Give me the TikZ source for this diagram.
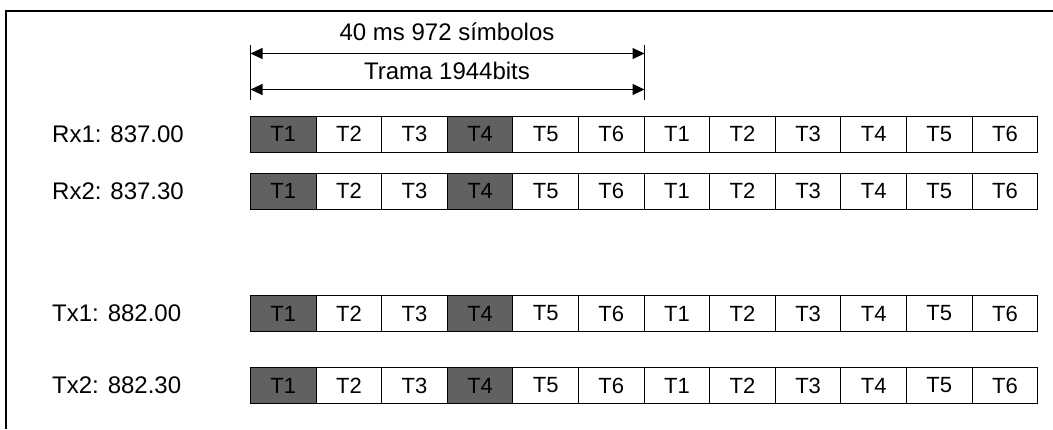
\documentclass[tikz,border=0pt]{standalone}
\usepackage{fontspec}
\setmainfont{Liberation Sans}
\usetikzlibrary{arrows.meta, positioning}
\tikzset{
  slotbox/.style={draw=black, line width=0.9pt, minimum width=65.6pt,
                  minimum height=36pt, inner sep=0pt, font=\fontsize{22}{24}\selectfont},
  hslotbox/.style={slotbox, fill=black!62},
  freqlabel/.style={anchor=west, inner sep=0pt, font=\fontsize{24}{28}\selectfont},
  toplabel/.style={inner sep=0pt, font=\fontsize{24}{28}\selectfont},
  dimarr/.style={{Triangle[length=12pt,width=11pt]}-{Triangle[length=12pt,width=11pt]}, line width=1.1pt},
  dimtick/.style={line width=1.2pt},
  frameline/.style={line width=1.3pt},
}
\begin{document}
\begin{tikzpicture}[x=1pt, y=-1pt]
    \useasboundingbox (0,0) rectangle (1053,429);
    \draw[frameline] (1053,11) -- (6,11) -- (6,429);

    % frame length markers
    \coordinate (lt) at (250.5,45);
    \coordinate (lb) at (250.5,100);
    \coordinate (rt) at (644.5,45);
    \coordinate (rb) at (644.5,100);
    \draw[dimtick] (lt) -- (lb);
    \draw[dimtick] (rt) -- (rb);
    \coordinate (a1l) at (250.5,53.5);
    \coordinate (a1r) at (644.5,53.5);
    \coordinate (a2l) at (250.5,89.5);
    \coordinate (a2r) at (644.5,89.5);
    \draw[dimarr] (a1l) -- (a1r);
    \draw[dimarr] (a2l) -- (a2r);
    \node[toplabel] (dur) at (447,32) {40 ms 972 símbolos};
    \node[toplabel] (frm) at (447,71) {Trama 1944bits};

    % carriers and time slots
    \foreach \r/\lab/\yy in {rxa/{Rx1: 837.00}/134, rxb/{Rx2: 837.30}/191,
                             txa/{Tx1: 882.00}/313.5, txb/{Tx2: 882.30}/385.5} {
      \node[freqlabel] (\r-lab) at (52,\yy) {\lab};
      \foreach \i in {1,...,12} {
        \pgfmathtruncatemacro{\n}{mod(\i-1,6)+1}
        \ifnum\i=1 \def\st{hslotbox}\else\ifnum\i=4 \def\st{hslotbox}\else\def\st{slotbox}\fi\fi
        \node[\st] (\r-\i) at ({250.5+65.6*(\i-0.5)},\yy) {T\n};
      }
    }
\end{tikzpicture}
\end{document}
